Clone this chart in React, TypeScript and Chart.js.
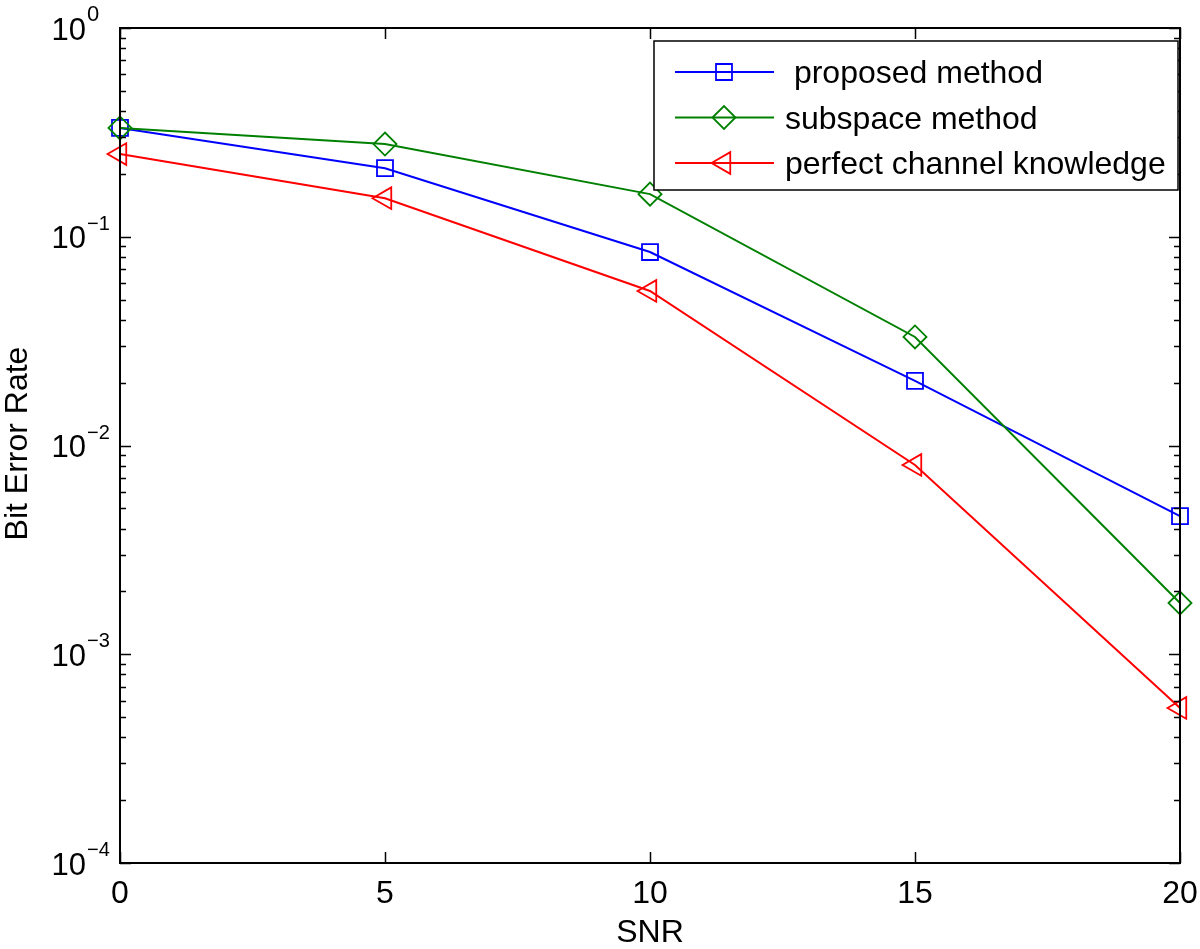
import React, { useEffect, useRef } from 'react';
import { Chart, registerables, PointElement } from 'chart.js';

Chart.register(...registerables);

// ---- data ----
const snr = [0, 5, 10, 15, 20];
const proposed = [0.332, 0.213, 0.0845, 0.0204, 0.00459];
const subspace = [0.332, 0.278, 0.16, 0.0331, 0.00176];
const perfect = [0.249, 0.153, 0.055, 0.00807, 0.000553];
const seriesLabels = [' proposed method', 'subspace method', 'perfect channel knowledge'];
const xTickValues = [0, 5, 10, 15, 20];
const yDecades = [-4, -3, -2, -1, 0];
const xTitle = 'SNR';
const yTitle = 'Bit Error Rate';

const FONT = '"Liberation Sans", Arial, Helvetica, sans-serif';

const matlabAxes = {
  id: 'matlabAxes',
  afterDraw(chart: any) {
    const { ctx, chartArea: a, scales } = chart;
    const xs = scales.x;
    const ys = scales.y;
    ctx.save();
    // inward ticks
    ctx.strokeStyle = '#000';
    ctx.lineWidth = 1.5;
    ctx.beginPath();
    xs.ticks.forEach((t: any) => {
      const px = Math.round(xs.getPixelForValue(t.value)) + 0.5;
      ctx.moveTo(px, a.bottom);
      ctx.lineTo(px, a.bottom - 11);
      ctx.moveTo(px, a.top);
      ctx.lineTo(px, a.top + 11);
    });
    ys.ticks.forEach((t: any) => {
      const py = Math.round(ys.getPixelForValue(t.value)) + 0.5;
      const len = t.major ? 11 : 6;
      ctx.moveTo(a.left, py);
      ctx.lineTo(a.left + len, py);
      ctx.moveTo(a.right, py);
      ctx.lineTo(a.right - len, py);
    });
    ctx.stroke();
    // box
    ctx.lineWidth = 2;
    ctx.strokeRect(a.left, a.top, a.right - a.left, a.bottom - a.top);

    // x tick labels
    ctx.fillStyle = '#000';
    ctx.font = `32px ${FONT}`;
    ctx.textAlign = 'center';
    ctx.textBaseline = 'alphabetic';
    xs.ticks.forEach((t: any) => {
      ctx.fillText(String(t.value), xs.getPixelForValue(t.value), a.bottom + 40);
    });
    // x title
    ctx.fillText(xTitle, (a.left + a.right) / 2, a.bottom + 79);

    // y tick labels (10^n)
    ys.ticks.forEach((t: any) => {
      if (!t.major) return;
      const py = ys.getPixelForValue(t.value);
      const e = Math.round(Math.log10(t.value));
      ctx.font = `31px ${FONT}`;
      ctx.textAlign = 'right';
      ctx.fillText('10', a.left - 34, py + 11.5);
      ctx.textAlign = 'left';
      if (e === 0) {
        ctx.font = `22px ${FONT}`;
        ctx.fillText('0', a.left - 33, py - 7);
      } else {
        ctx.font = `20px ${FONT}`;
        ctx.fillText((e < 0 ? '\u2212' : '') + String(Math.abs(e)), a.left - 33, py - 7);
      }
    });

    // y title
    ctx.save();
    ctx.translate(27, (a.top + a.bottom) / 2 - 2);
    ctx.rotate(-Math.PI / 2);
    ctx.font = `32px ${FONT}`;
    ctx.textAlign = 'center';
    ctx.fillText(yTitle, 0, 0);
    ctx.restore();

    // legend
    const lx = a.right - 526;
    const ly = a.top + 13;
    const lw = 524;
    const lh = 149;
    ctx.fillStyle = '#fff';
    ctx.fillRect(lx, ly, lw, lh);
    ctx.lineWidth = 1.5;
    ctx.strokeStyle = '#000';
    ctx.strokeRect(lx, ly, lw, lh);
    chart.data.datasets.forEach((ds: any, i: number) => {
      const ry = ly + 31 + i * 45.5;
      ctx.strokeStyle = ds.borderColor;
      ctx.lineWidth = ds.borderWidth;
      ctx.beginPath();
      ctx.moveTo(lx + 21, ry);
      ctx.lineTo(lx + 120, ry);
      ctx.stroke();
      const meta = chart.getDatasetMeta(i);
      const pt: any = new PointElement({});
      pt.x = lx + 70;
      pt.y = ry;
      pt.options = meta.data[0].options;
      pt.draw(ctx, a);
      ctx.fillStyle = '#000';
      ctx.font = `32px ${FONT}`;
      ctx.textAlign = 'left';
      ctx.fillText(ds.label, lx + 131, ry + 11);
    });
    ctx.restore();
  },
};

export default function App() {
  const ref = useRef<HTMLCanvasElement | null>(null);
  useEffect(() => {
    if (!ref.current) return;
    const mk = (label: string, data: number[], color: string, style: string, rot: number, r: number, order: number) => ({
      label,
      data: snr.map((x, i) => ({ x, y: data[i] })),
      borderColor: color,
      backgroundColor: 'rgba(0,0,0,0)',
      borderWidth: 2,
      pointStyle: style,
      rotation: rot,
      pointRadius: r,
      pointBorderWidth: 1.8,
      pointBorderColor: color,
      pointBackgroundColor: 'rgba(0,0,0,0)',
      tension: 0,
      clip: false as any,
      order,
    });
    const chart = new Chart(ref.current, {
      type: 'line',
      data: {
        datasets: [
          mk(seriesLabels[0], proposed, '#0000ff', 'rect', 0, 11.3, 3),
          mk(seriesLabels[1], subspace, '#008000', 'rectRot', 0, 11.5, 2),
          mk(seriesLabels[2], perfect, '#ff0000', 'triangle', -90, 12.5, 1),
        ] as any,
      },
      options: {
        animation: false,
        responsive: false,
        events: [],
        layout: { padding: { top: 28, right: 20, left: 0, bottom: 0 } },
        plugins: { legend: { display: false }, tooltip: { enabled: false } },
        scales: {
          x: {
            type: 'linear',
            min: 0,
            max: 20,
            afterBuildTicks: (scale: any) => {
              scale.ticks = xTickValues.map((v) => ({ value: v, major: true }));
            },
            afterFit: (scale: any) => {
              scale.height = 86;
            },
            grid: { display: false },
            border: { display: false },
            ticks: { display: false },
          },
          y: {
            type: 'logarithmic',
            min: Math.pow(10, yDecades[0]),
            max: Math.pow(10, yDecades[yDecades.length - 1]),
            afterBuildTicks: (scale: any) => {
              const ticks: any[] = [];
              yDecades.forEach((d, i) => {
                ticks.push({ value: Math.pow(10, d), major: true });
                if (i < yDecades.length - 1) {
                  for (let m = 2; m <= 9; m++) ticks.push({ value: m * Math.pow(10, d), major: false });
                }
              });
              scale.ticks = ticks;
            },
            afterFit: (scale: any) => {
              scale.width = 120;
            },
            grid: { display: false },
            border: { display: false },
            ticks: { display: false },
          },
        },
      },
      plugins: [matlabAxes],
    });
    return () => chart.destroy();
  }, []);
  return (
    <div style={{ position: 'absolute', left: 0, top: 0, width: 1200, height: 949, background: '#fff' }}>
      <canvas ref={ref} width={1200} height={949} />
    </div>
  );
}
